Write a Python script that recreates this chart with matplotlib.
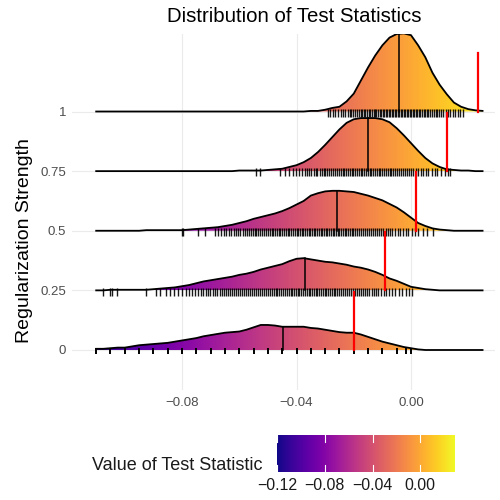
import numpy as np
import matplotlib
matplotlib.use('Agg')
import matplotlib.pyplot as plt
from matplotlib.colors import Normalize
from matplotlib.patches import Polygon

plt.rcParams['font.family'] = ['Liberation Sans', 'DejaVu Sans']

# ---- data ----
strength_labels = ['0', '0.25', '0.5', '0.75', '1']

# x positions where the ridge heights were read
grid_x = [-0.1100, -0.1075, -0.1050, -0.1025, -0.1000, -0.0975, -0.0950, -0.0925,
          -0.0900, -0.0875, -0.0850, -0.0825, -0.0800, -0.0775, -0.0750, -0.0725,
          -0.0700, -0.0675, -0.0650, -0.0625, -0.0600, -0.0575, -0.0550, -0.0525,
          -0.0500, -0.0475, -0.0450, -0.0425, -0.0400, -0.0375, -0.0350, -0.0325,
          -0.0300, -0.0275, -0.0250, -0.0225, -0.0200, -0.0175, -0.0150, -0.0125,
          -0.0100, -0.0075, -0.0050, -0.0025, 0.0000, 0.0025, 0.0050, 0.0075,
          0.0100, 0.0125, 0.0150, 0.0175, 0.0200, 0.0225, 0.0250]

# ridge heights (in units of row spacing)
density_0 = [0.02, 0.02, 0.03, 0.04, 0.04, 0.06, 0.08, 0.09, 0.10, 0.11, 0.12, 0.14,
             0.16, 0.18, 0.20, 0.23, 0.25, 0.27, 0.29, 0.30, 0.31, 0.34, 0.38, 0.42,
             0.42, 0.41, 0.39, 0.39, 0.39, 0.39, 0.37, 0.36, 0.34, 0.32, 0.30, 0.29,
             0.29, 0.26, 0.22, 0.18, 0.14, 0.11, 0.08, 0.05, 0.03, 0.01, 0.00, 0.00,
             0.00, 0.00, 0.00, 0.00, 0.00, 0.00, 0.00]
density_025 = [0.00, 0.00, 0.01, 0.01, 0.01, 0.01, 0.01, 0.01, 0.02, 0.03, 0.04, 0.05,
               0.07, 0.09, 0.12, 0.15, 0.17, 0.19, 0.21, 0.23, 0.26, 0.28, 0.31, 0.35,
               0.38, 0.41, 0.44, 0.49, 0.53, 0.54, 0.52, 0.50, 0.48, 0.47, 0.45, 0.43,
               0.40, 0.38, 0.35, 0.31, 0.26, 0.20, 0.16, 0.11, 0.06, 0.04, 0.02, 0.01,
               0.00, 0.00, 0.00, 0.00, 0.00, 0.00, 0.00]
density_05 = [0.00, 0.00, 0.00, 0.00, 0.00, 0.00, 0.00, 0.01, 0.01, 0.01, 0.01, 0.01,
              0.01, 0.02, 0.03, 0.04, 0.05, 0.06, 0.08, 0.10, 0.13, 0.16, 0.20, 0.23,
              0.26, 0.29, 0.33, 0.38, 0.44, 0.50, 0.59, 0.63, 0.66, 0.67, 0.67, 0.66,
              0.65, 0.62, 0.59, 0.55, 0.51, 0.45, 0.39, 0.31, 0.22, 0.13, 0.08, 0.04,
              0.02, 0.01, 0.00, 0.00, 0.00, 0.00, 0.00]
density_075 = [0.00, 0.00, 0.00, 0.00, 0.00, 0.00, 0.00, 0.00, 0.00, 0.00, 0.00, 0.00,
               0.00, 0.00, 0.00, 0.00, 0.00, 0.00, 0.00, 0.00, 0.01, 0.01, 0.01, 0.01,
               0.02, 0.03, 0.04, 0.07, 0.10, 0.15, 0.22, 0.32, 0.44, 0.57, 0.70, 0.81,
               0.87, 0.89, 0.89, 0.89, 0.87, 0.82, 0.72, 0.60, 0.47, 0.34, 0.22, 0.13,
               0.07, 0.03, 0.02, 0.01, 0.01, 0.00, 0.00]
density_1 = [0.00, 0.00, 0.00, 0.00, 0.00, 0.00, 0.00, 0.00, 0.00, 0.00, 0.00, 0.00,
             0.00, 0.00, 0.00, 0.00, 0.00, 0.00, 0.00, 0.00, 0.00, 0.00, 0.00, 0.00,
             0.00, 0.00, 0.00, 0.00, 0.00, 0.00, 0.01, 0.01, 0.03, 0.06, 0.08, 0.17,
             0.30, 0.52, 0.74, 0.94, 1.11, 1.24, 1.30, 1.31, 1.28, 1.11, 0.91, 0.65,
             0.45, 0.29, 0.15, 0.08, 0.04, 0.02, 0.01]

medians = [-0.0448, -0.0370, -0.0260, -0.0149, -0.0042]
observed = [-0.0199, -0.0091, 0.0017, 0.0127, 0.0235]

# simulated statistics (rug marks)
rug_0 = [-0.110, -0.105, -0.100, -0.095, -0.090, -0.085, -0.080, -0.075, -0.070,
         -0.065, -0.060, -0.055, -0.050, -0.045, -0.040, -0.035, -0.030, -0.025,
         -0.020, -0.015, -0.010, -0.005, -0.0017, 0.000]
rug_025 = [-0.1076, -0.1052, -0.1045, -0.1027, -0.0926, -0.0891, -0.0877, -0.0856,
           -0.0842, -0.0828, -0.0814, -0.0800, -0.0786, -0.0775, -0.0765, -0.0754,
           -0.0744, -0.0735, -0.0726, -0.0718, -0.0709, -0.0701, -0.0693, -0.0685,
           -0.0677, -0.0669, -0.0661, -0.0654, -0.0646, -0.0639, -0.0631, -0.0624,
           -0.0617, -0.0610, -0.0603, -0.0596, -0.0589, -0.0582, -0.0575, -0.0568,
           -0.0561, -0.0554, -0.0547, -0.0540, -0.0533, -0.0527, -0.0520, -0.0513,
           -0.0506, -0.0500, -0.0493, -0.0486, -0.0480, -0.0473, -0.0467, -0.0460,
           -0.0454, -0.0447, -0.0441, -0.0434, -0.0428, -0.0421, -0.0415, -0.0409,
           -0.0402, -0.0396, -0.0390, -0.0383, -0.0377, -0.0371, -0.0365, -0.0358,
           -0.0352, -0.0346, -0.0340, -0.0333, -0.0327, -0.0321, -0.0315, -0.0308,
           -0.0302, -0.0296, -0.0289, -0.0283, -0.0277, -0.0270, -0.0264, -0.0257,
           -0.0251, -0.0244, -0.0238, -0.0231, -0.0224, -0.0218, -0.0211, -0.0204,
           -0.0197, -0.0190, -0.0183, -0.0176, -0.0169, -0.0161, -0.0154, -0.0146,
           -0.0138, -0.0130, -0.0122, -0.0114, -0.0105, -0.0096, -0.0086, -0.0076,
           -0.0066, -0.0055, -0.0043, -0.0031, -0.0018, -0.0008, 0.0003]
rug_05 = [-0.0801, -0.0795, -0.0744, -0.0720, -0.0686, -0.0676, -0.0664, -0.0655,
          -0.0648, -0.0637, -0.0628, -0.0620, -0.0611, -0.0603, -0.0596, -0.0588,
          -0.0581, -0.0574, -0.0567, -0.0560, -0.0553, -0.0546, -0.0540, -0.0533,
          -0.0526, -0.0520, -0.0513, -0.0507, -0.0500, -0.0494, -0.0487, -0.0481,
          -0.0475, -0.0468, -0.0462, -0.0456, -0.0450, -0.0443, -0.0437, -0.0431,
          -0.0425, -0.0418, -0.0412, -0.0406, -0.0400, -0.0394, -0.0388, -0.0382,
          -0.0376, -0.0370, -0.0364, -0.0358, -0.0352, -0.0346, -0.0340, -0.0334,
          -0.0328, -0.0322, -0.0316, -0.0310, -0.0304, -0.0298, -0.0292, -0.0286,
          -0.0280, -0.0274, -0.0268, -0.0262, -0.0256, -0.0250, -0.0244, -0.0238,
          -0.0232, -0.0226, -0.0220, -0.0214, -0.0207, -0.0201, -0.0195, -0.0188,
          -0.0182, -0.0175, -0.0168, -0.0162, -0.0155, -0.0148, -0.0141, -0.0134,
          -0.0127, -0.0120, -0.0112, -0.0105, -0.0097, -0.0089, -0.0081, -0.0073,
          -0.0065, -0.0056, -0.0047, -0.0038, -0.0029, -0.0019, -0.0009, 0.0002,
          0.0013, 0.0026, 0.0041, 0.0056, 0.0077]
rug_075 = [-0.0540, -0.0528, -0.0459, -0.0440, -0.0425, -0.0411, -0.0402, -0.0390,
           -0.0381, -0.0372, -0.0363, -0.0355, -0.0348, -0.0340, -0.0333, -0.0327,
           -0.0319, -0.0312, -0.0305, -0.0299, -0.0292, -0.0285, -0.0278, -0.0272,
           -0.0265, -0.0259, -0.0252, -0.0246, -0.0239, -0.0233, -0.0226, -0.0220,
           -0.0214, -0.0207, -0.0201, -0.0195, -0.0188, -0.0182, -0.0176, -0.0170,
           -0.0163, -0.0157, -0.0151, -0.0145, -0.0139, -0.0132, -0.0126, -0.0120,
           -0.0113, -0.0107, -0.0101, -0.0094, -0.0088, -0.0082, -0.0075, -0.0069,
           -0.0062, -0.0056, -0.0049, -0.0043, -0.0036, -0.0029, -0.0022, -0.0015,
           -0.0008, 0.0000, 0.0008, 0.0016, 0.0025, 0.0034, 0.0043, 0.0052, 0.0061,
           0.0072, 0.0083, 0.0091, 0.0104, 0.0118, 0.0131, 0.0137]
rug_1 = [-0.0290, -0.0282, -0.0271, -0.0265, -0.0254, -0.0246, -0.0238, -0.0229,
         -0.0221, -0.0214, -0.0208, -0.0201, -0.0195, -0.0188, -0.0183, -0.0176,
         -0.0171, -0.0164, -0.0159, -0.0153, -0.0148, -0.0142, -0.0137, -0.0131,
         -0.0126, -0.0121, -0.0115, -0.0110, -0.0104, -0.0099, -0.0094, -0.0088,
         -0.0083, -0.0078, -0.0072, -0.0067, -0.0062, -0.0057, -0.0051, -0.0046,
         -0.0041, -0.0036, -0.0030, -0.0025, -0.0020, -0.0014, -0.0009, -0.0004,
         0.0001, 0.0006, 0.0012, 0.0017, 0.0022, 0.0028, 0.0033, 0.0039, 0.0044,
         0.0050, 0.0056, 0.0061, 0.0067, 0.0073, 0.0079, 0.0086, 0.0092, 0.0099,
         0.0106, 0.0113, 0.0121, 0.0129, 0.0137, 0.0146, 0.0152, 0.0163, 0.0171,
         0.0181]

x_ticks = [-0.08, -0.04, 0.00]
x_tick_labels = ['\u22120.08', '\u22120.04', '0.00']
fill_min, fill_max = -0.12, 0.0291
cbar_ticks = [-0.12, -0.08, -0.04, 0.00]
cbar_labels = ['\u22120.12', '\u22120.08', '\u22120.04', '0.00']

densities = [density_0, density_025, density_05, density_075, density_1]
rugs = [rug_0, rug_025, rug_05, rug_075, rug_1]

# ---- figure ----
fig = plt.figure(figsize=(5, 5), dpi=100)
ax = fig.add_axes([72 / 500, 1 - 390 / 500, 423 / 500, 356 / 500])

norm = Normalize(vmin=fill_min, vmax=fill_max)
gradient = np.linspace(fill_min, fill_max, 512).reshape(1, -1)
xs = np.array(grid_x)

# grid lines (theme_minimal look)
for xt in x_ticks:
    ax.axvline(xt, color='#EBEBEB', lw=0.8, zorder=0)
for k in range(len(strength_labels)):
    ax.axhline(k, color='#EBEBEB', lw=0.8, zorder=0)

# draw ridges from the top one down, lower ridges on top
for k in reversed(range(len(densities))):
    h = np.array(densities[k])
    base = k
    z = 2 + (4 - k) * 0.5
    top = base + h
    verts = np.vstack([np.column_stack([xs, top]),
                       [[xs[-1], base], [xs[0], base]]])
    poly = Polygon(verts, closed=True, facecolor='none', edgecolor='none')
    ax.add_patch(poly)
    im = ax.imshow(gradient, extent=[fill_min, fill_max, base, base + h.max() + 0.05],
                   aspect='auto', cmap='plasma', norm=norm, origin='lower',
                   interpolation='bilinear', zorder=z)
    im.set_clip_path(poly)
    ax.plot(xs, top, color='black', lw=1.3, zorder=z + 0.1)

    # median line
    hm = np.interp(medians[k], xs, h)
    ax.plot([medians[k], medians[k]], [base, base + hm], color='black', lw=1.1,
            zorder=z + 0.1)

    # rug of simulated statistics
    rug = rugs[k]
    if k == 0:
        ax.plot(rug, np.full(len(rug), base - 0.02), linestyle='none', marker='|',
                ms=5, mew=1.4, color='black', zorder=z + 0.2)
    else:
        ax.plot(rug, np.full(len(rug), base - 0.02), linestyle='none', marker='|',
                ms=5.5, mew=1.0, color='black', alpha=0.9, zorder=z + 0.2)

# observed statistic
for k, obs in enumerate(observed):
    ax.plot([obs, obs], [k, k + 0.98], color='red', lw=1.6, zorder=10)

ax.set_xlim(-0.11845, 0.02935)
ax.set_ylim(-0.671, 5.30)
ax.set_xticks(x_ticks, x_tick_labels)
ax.set_yticks(range(len(strength_labels)), strength_labels)
ax.tick_params(length=0, labelsize=9.5, labelcolor='#4D4D4D')
ax.tick_params(axis='y', pad=4.3)
ax.tick_params(axis='x', pad=5)
for s in ax.spines.values():
    s.set_visible(False)

fig.text(294 / 500, 1 - 16 / 500, 'Distribution of Test Statistics', ha='center',
         va='center', fontsize=14.7, color='black')
fig.text(25 / 500, 1 - 241 / 500, 'Regularization Strength', rotation=90,
         ha='center', va='center', fontsize=14, color='black')

# colour bar legend
cax = fig.add_axes([277 / 500, 1 - 472 / 500, 178 / 500, 37 / 500])
cax.imshow(gradient, extent=[fill_min, fill_max, 0, 1], aspect='auto', cmap='plasma',
           norm=norm, interpolation='bilinear')
for t in cbar_ticks:
    cax.plot([t, t], [0, 0.19], color='white', lw=0.8)
    cax.plot([t, t], [0.81, 1], color='white', lw=0.8)
cax.set_xlim(fill_min, fill_max)
cax.set_ylim(0, 1)
cax.set_yticks([])
cax.set_xticks(cbar_ticks, cbar_labels)
cax.tick_params(length=0, labelsize=11.4, labelcolor='#1A1A1A', pad=4)
for s in cax.spines.values():
    s.set_visible(False)
fig.text(263 / 500, 1 - 466 / 500, 'Value of Test Statistic', ha='right', va='center',
         fontsize=13, color='#1A1A1A')

fig.savefig('out.png', dpi=100)
